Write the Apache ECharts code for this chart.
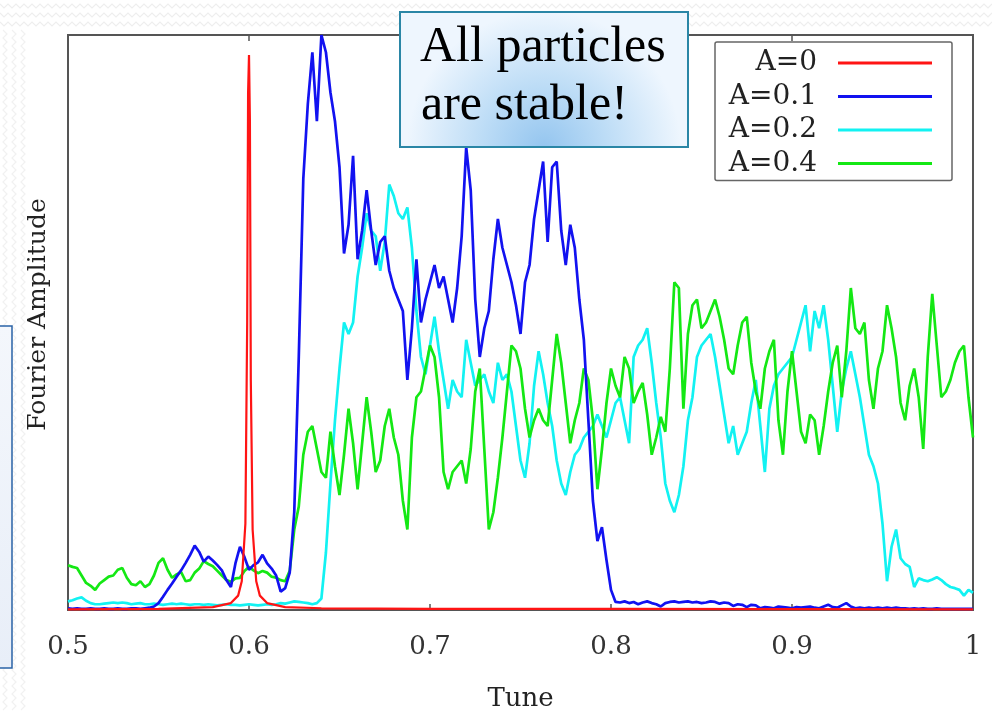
<!DOCTYPE html>
<html>
<head>
<meta charset="utf-8">
<script src="https://cdn.jsdelivr.net/npm/echarts@6/dist/echarts.min.js"></script>
<style>
html,body{margin:0;padding:0;background:#fff;}
#chart{width:992px;height:711px;}
</style>
</head>
<body>
<div id="chart"></div>
<script>
// ---- data ----
const seriesNames = ['A=0', 'A=0.1', 'A=0.2', 'A=0.4'];
const tickLabels = ['0.5', '0.6', '0.7', '0.8', '0.9', '1'];
const tuneStart = 0.5;
const tuneStep = 0.0025;

// A=0: narrow resonance line at tune 0.6
const tuneA0 = [0.5, 0.55, 0.58, 0.59, 0.594, 0.596, 0.598, 0.599, 0.5995, 0.6, 0.6005, 0.601, 0.602, 0.604, 0.606, 0.61, 0.62, 0.64, 0.7, 0.8, 1.0];
const ampA0  = [0.1, 0.2, 0.5, 1.2, 2.5, 5, 15, 50, 90, 96.5, 85, 40, 14, 5, 2.5, 1.2, 0.5, 0.3, 0.2, 0.2, 0.1];

// A=0.1 (sampled every 0.0025 from 0.5 to 1.0)
const ampA01 = [
 0.3,0.2,0.3,0.2,0.2,0.3,0.2,0.2,0.3,0.2, 0.2,0.3,0.2,0.2,0.3,0.3,0.2,0.3,0.4,0.6,
 1.2,2.3,3.5,4.6,5.8,6.9,8.2,9.6,11.2,10.1, 8.4,9.3,8.6,7.8,6.9,5.2,4.0,8.1,11.0,9.2,
 7.0,7.8,8.3,9.6,8.1,7.2,6.0,3.2,3.8,6.5, 17,44,75,88,97,85,100,97,90,85,
 77,62,67,79,61,66,73,66,60,64, 65,59,56,54,52,40,49,61,50,54,
 57,60,56,58,54,50,56,65,80.5,73, 54,44,49,52,61,68,63,60,57,53,
 48,57,60,68,73,78,64,77,78,66, 60,67,63,54,47,33,19,12,14.4,8.7,
 3.5,1.4,1.3,1.5,1.2,1.4,1.0,1.3,1.5,1.2, 1.0,0.6,1.2,1.4,1.5,1.3,1.4,1.5,1.3,1.4,
 1.2,1.3,1.5,1.4,1.1,1.3,1.2,0.7,1.0,0.9, 0.5,0.9,0.8,0.3,0.5,0.4,0.3,0.6,0.5,0.4,
 0.3,0.5,0.4,0.5,0.6,0.4,0.3,0.6,0.9,0.5, 0.4,0.8,1.2,0.6,0.3,0.4,0.3,0.4,0.3,0.4,
 0.3,0.4,0.3,0.4,0.3,0.3,0.2,0.3,0.2,0.3, 0.2,0.2,0.3,0.2,0.2,0.2,0.2,0.2,0.2,0.2,
 0.2
];

// A=0.2
const ampA02 = [
 1.5,1.7,2.0,2.2,1.6,1.2,1.0,1.0,1.1,1.2, 1.3,1.2,1.3,1.2,1.0,1.1,1.2,1.0,1.0,1.1,
 1.0,0.9,1.0,1.1,1.0,1.1,1.0,0.9,1.0,1.0, 0.9,1.0,0.9,0.8,0.9,1.0,0.9,0.9,0.8,0.9,
 1.0,0.9,0.8,0.9,1.0,0.9,1.0,1.2,1.1,1.3, 1.5,1.4,1.3,1.2,1.0,1.2,2.0,10,22,33,
 42,50,48,50,58,63,69,66,65,59, 64,74,72,69,68,70,63,52,44,41,
 46,51,45,40,35,40,38,37,47,43, 39,40,41,38,36,43,40,41,38,32,
 26,23,29,39,45,41,36,32,26,22, 20,24,27,28,30,31,32,34,32,30,
 33,36,37,33,29,44,46,47,49,43, 36,30,22,19,17,20,25,33,37,44,
 46,47,48,44,39,34,29,32,27,29, 31,36,40,32,24,35,39,41,42,43,
 44,47,50,53,45,52,49,53,47,39, 31,38,42,45,41,37,32,27,25,22,
 15,5,11,14,9,8,7.5,4,5.5,5.2, 5.0,5.3,5.7,5.2,4.5,4.0,3.8,3.5,2.5,3.5,
 3.0
];

// A=0.4
const ampA04 = [
 7.8,7.5,7.3,6.0,4.7,4.2,3.5,4.6,5.2,5.8, 6.0,7.0,7.3,5.6,4.5,4.3,5.0,4.0,4.5,6.0,
 8.2,9.0,7.0,5.6,6.2,6.6,5.0,5.2,6.5,7.2, 8.5,8.0,7.6,6.8,6.0,5.2,4.9,5.5,5.6,6.8,
 7.5,6.9,6.4,6.8,6.5,5.8,5.6,5.2,5.0,6.8, 14,18,27,31,32,28,24,23,31,25,
 20,27,35,29,21,29,37,31,24,26, 32,35,30,27,19,14,30,37,38,42,
 46,44,37,24,21,24,25,26,22,28, 38,42,28,14,17,23,30,38,46,45,
 42,35,30,33,35,33,32,40,48,43, 36,29,33,36,42,40,33,21,28,36,
 42,39,37,44,42,36,38,39.5,34,27, 30,33.6,31,42,57,56,35,48,53,54,
 49,50,52,54,51,47,42,41,46,50, 51,43,38,35,42,45,47,33,27,38,
 45,38,31,29,34,33,27,32,38,43, 46,37,45,56,49,48,50,40,35,42,
 45,53,49,44,36,33,39,42,37,28, 44,55,46,37,38,40,43,45,46,37,
 30
];

// ---- build chart ----
function pairs(amps) {
  return amps.map((a, i) => [+(tuneStart + i * tuneStep).toFixed(4), a]);
}
const dataA0 = tuneA0.map((t, i) => [t, ampA0[i]]);

const colors = ['#ff1414', '#1212f0', '#12f2f2', '#14e814'];
const serif = 'DejaVu Serif';

function zigzagRow(y0, x0, x1) {
  const pts = [];
  for (let x = x0, k = 0; x <= x1; x += 4, k++) pts.push([x, y0 + (k % 2 ? 2 : -2)]);
  return pts;
}
function zigzagCol(x0, y0, y1) {
  const pts = [];
  for (let y = y0, k = 0; y <= y1; y += 4, k++) pts.push([x0 + (k % 2 ? 2 : -2), y]);
  return pts;
}
const deco = [];
[6, 15, 24].forEach(y => deco.push({type: 'polyline', z: -10, shape: {points: zigzagRow(y, 0, 992)}, style: {stroke: '#eeeeee', lineWidth: 1.2, fill: null}}));
[5, 14, 23].forEach(x => deco.push({type: 'polyline', z: -10, shape: {points: zigzagCol(x, 30, 711)}, style: {stroke: '#f1f1f1', lineWidth: 1.2, fill: null}}));

const chart = echarts.init(document.getElementById('chart'), null, {renderer: 'canvas'});
chart.setOption({
  animation: false,
  backgroundColor: '#ffffff',
  grid: {left: 68, right: 19, top: 35, bottom: 101, show: true, borderColor: '#555', borderWidth: 2, backgroundColor: 'transparent', containLabel: false, outerBoundsMode: 'none'},
  xAxis: [{
    type: 'value', min: 0.5, max: 1, interval: 0.1,
    axisLine: {show: false},
    axisTick: {show: true, inside: true, length: 6, lineStyle: {color: '#555', width: 1.5}},
    axisLabel: {
      margin: 24, color: '#333', fontFamily: serif, fontSize: 26,
      formatter: v => tickLabels[Math.round((v - 0.5) * 10)]
    },
    splitLine: {show: false},
    name: 'Tune', nameLocation: 'middle', nameGap: 76,
    nameTextStyle: {fontFamily: serif, fontSize: 26, color: '#222'}
  }, {
    type: 'value', min: 0.5, max: 1, interval: 0.1, position: 'top',
    axisLine: {show: false},
    axisTick: {show: true, inside: true, length: 6, lineStyle: {color: '#555', width: 1.5}},
    axisLabel: {show: false},
    splitLine: {show: false}
  }],
  yAxis: {
    type: 'value', min: 0, max: 100,
    axisLine: {show: false}, axisTick: {show: false}, axisLabel: {show: false},
    splitLine: {show: false},
    name: 'Fourier Amplitude', nameLocation: 'middle', nameGap: 17,
    nameTextStyle: {fontFamily: serif, fontSize: 25, color: '#222', padding: [0, 0, 0, 16]}
  },
  legend: {
    orient: 'vertical', left: 715, top: 42, align: 'right',
    data: seriesNames,
    icon: 'rect', itemWidth: 94, itemHeight: 3, itemGap: 5.5,
    padding: [7, 20, 3, 10],
    borderColor: '#666', borderWidth: 1.5, borderRadius: 2,
    backgroundColor: '#fff',
    selectedMode: false,
    formatter: name => '{a|' + name + '}{b|}',
    textStyle: {
      rich: {
        a: {width: 92, align: 'right', fontFamily: serif, fontSize: 28, lineHeight: 30, color: '#222'},
        b: {width: 16, lineHeight: 30}
      }
    }
  },
  series: [
    {name: seriesNames[0], type: 'line', data: dataA0, showSymbol: false, z: 6, lineStyle: {color: colors[0], width: 2.2}, itemStyle: {color: colors[0]}},
    {name: seriesNames[1], type: 'line', data: pairs(ampA01), showSymbol: false, z: 5, lineStyle: {color: colors[1], width: 2.7}, itemStyle: {color: colors[1]}},
    {name: seriesNames[2], type: 'line', data: pairs(ampA02), showSymbol: false, z: 3, lineStyle: {color: colors[2], width: 2.7}, itemStyle: {color: colors[2]}},
    {name: seriesNames[3], type: 'line', data: pairs(ampA04), showSymbol: false, z: 4, lineStyle: {color: colors[3], width: 2.7}, itemStyle: {color: colors[3]}}
  ],
  graphic: deco.concat([
    {
      type: 'rect', z: 50,
      shape: {x: -4, y: 326, width: 16, height: 342},
      style: {
        fill: {type: 'linear', x: 0, y: 0, x2: 0, y2: 1, colorStops: [{offset: 0, color: '#f4f7fc'}, {offset: 1, color: '#e8eef8'}]},
        stroke: '#2a63a6', lineWidth: 1.5
      }
    },
    {
      type: 'group', z: 100,
      children: [
        {
          type: 'rect', z: 100,
          shape: {x: 400, y: 12, width: 288, height: 135},
          style: {
            fill: {type: 'radial', x: 0.5, y: 1.0, r: 1.0, colorStops: [{offset: 0, color: '#94c5ef'}, {offset: 0.45, color: '#bcdcf6'}, {offset: 1, color: '#eef6fe'}]},
            stroke: '#2a86a6', lineWidth: 2
          }
        },
        {type: 'text', z: 101, style: {text: 'All particles', x: 420, y: 48, fontFamily: 'Liberation Serif', fontSize: 50, fill: '#000', verticalAlign: 'middle'}},
        {type: 'text', z: 101, style: {text: 'are stable!', x: 421, y: 106, fontFamily: 'Liberation Serif', fontSize: 50, fill: '#000', verticalAlign: 'middle'}}
      ]
    }
  ])
});
</script>
</body>
</html>
